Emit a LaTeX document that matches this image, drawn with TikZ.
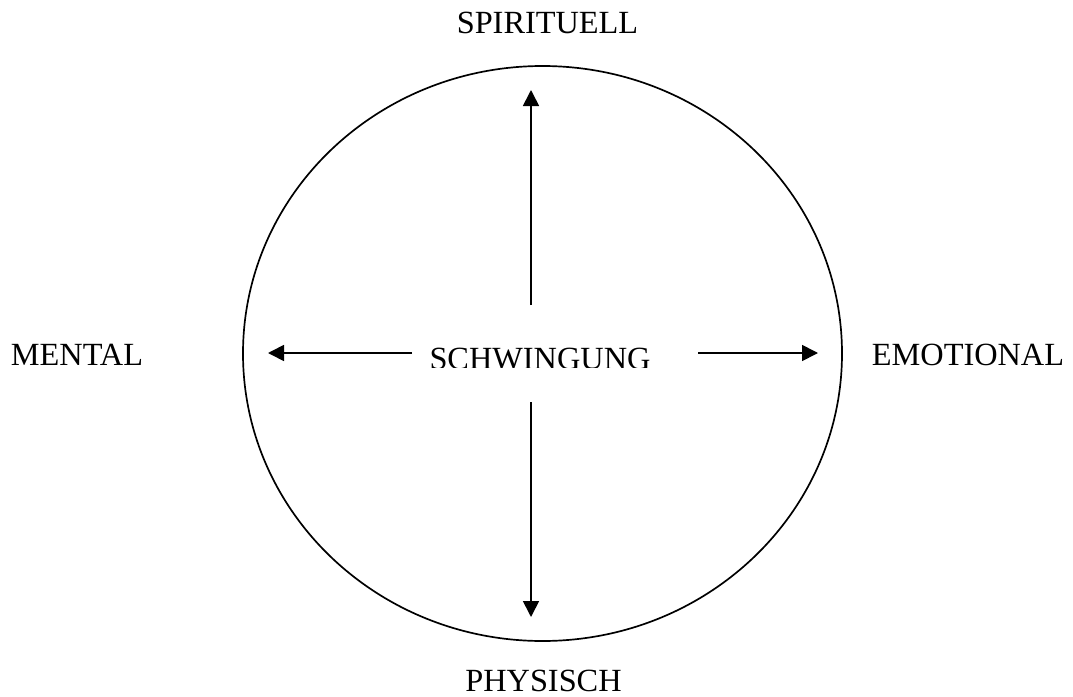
\documentclass[tikz,border=0pt]{standalone}
\usepackage{fontspec}
\setmainfont{Liberation Serif}
\usetikzlibrary{arrows.meta}

\begin{document}
\begin{tikzpicture}[x=0.025cm, y=-0.025cm,
    lbl/.style={font=\fontsize{23}{27}\selectfont, anchor=base, inner sep=0pt},
    pfeil/.style={-{Triangle[length=0.4cm, width=0.4cm]}, line width=1.2pt}]
  \useasboundingbox (0,0) rectangle (1073,697);
  % --- Circle ---
  \draw[line width=1.2pt] (542.5,353.5) ellipse [x radius=299.5, y radius=287.5];
  % --- Outer labels ---
  \node[lbl] (spirituell) at (547.5,33) {SPIRITUELL};
  \node[lbl] (physisch) at (543.5,691) {PHYSISCH};
  \node[lbl] (mental) at (77,365) {MENTAL};
  \node[lbl] (emotional) at (968,365) {EMOTIONAL};
  % --- Centre label (cut at its foot) ---
  \begin{scope}
    \clip (400,330) rectangle (700,367);
    \node[lbl] (schwingung) at (540,369) {SCHWINGUNG};
  \end{scope}
  % --- Arrows ---
  \coordinate (upA) at (531,305);   \coordinate (upB) at (531,90);
  \coordinate (dnA) at (531,402);   \coordinate (dnB) at (531,617);
  \coordinate (ltA) at (412,353);   \coordinate (ltB) at (268,353);
  \coordinate (rtA) at (698,353);   \coordinate (rtB) at (818,353);
  \draw[pfeil] (upA) -- (upB);
  \draw[pfeil] (dnA) -- (dnB);
  \draw[pfeil] (ltA) -- (ltB);
  \draw[pfeil] (rtA) -- (rtB);
\end{tikzpicture}
\end{document}
